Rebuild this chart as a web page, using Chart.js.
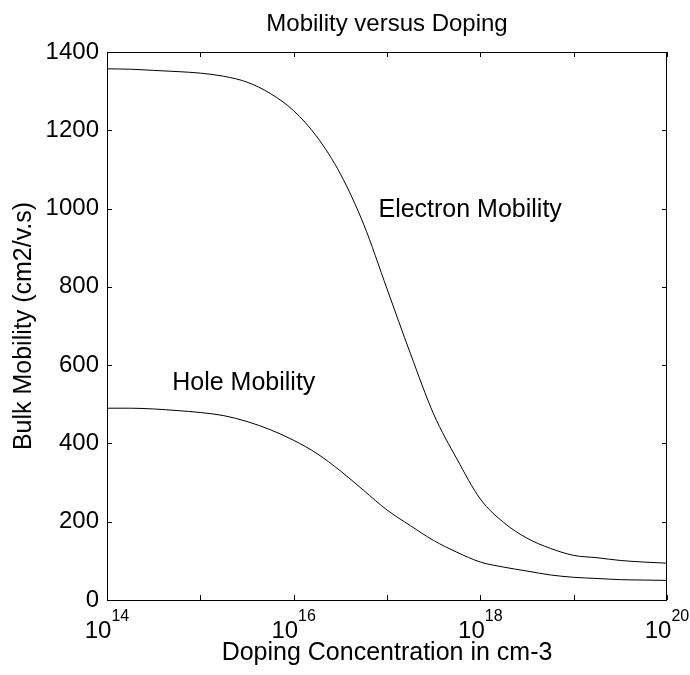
<!DOCTYPE html>
<html>
<head>
<meta charset="utf-8">
<script src="https://cdn.jsdelivr.net/npm/chart.js@4.4.1/dist/chart.umd.min.js"></script>
<style>
  html, body { margin: 0; padding: 0; background: #ffffff; }
  #wrap { width: 690px; height: 675px; }
</style>
</head>
<body>
<div id="wrap"><canvas id="c" width="690" height="675"></canvas></div>
<script>
// ---- data ----
const dopingConcentration = [
  1e14, 1.78e14, 3.16e14, 5.62e14,
  1e15, 1.78e15, 3.16e15, 5.62e15,
  1e16, 1.78e16, 3.16e16, 5.62e16,
  1e17, 1.78e17, 3.16e17, 5.62e17,
  1e18, 1.78e18, 3.16e18, 5.62e18,
  1e19, 1.78e19, 3.16e19, 5.62e19,
  1e20
];
const electronMobility = [
  1357, 1356, 1353, 1350,
  1346, 1338, 1323, 1294,
  1250, 1183, 1089, 960,
  795, 630, 475, 360,
  258, 198, 158, 132,
  114, 108, 101, 97,
  94
];
const holeMobility = [
  490, 490, 488, 484,
  479, 471, 456, 435,
  408, 374, 330, 280,
  230, 190, 152, 122,
  97, 84, 74, 64,
  58, 55, 52, 51,
  50
];
const xTickValues = [1e14, 1e15, 1e16, 1e17, 1e18, 1e19, 1e20];
const xTickLabelExponents = [14, 16, 18, 20];
const yTickStep = 200;
const titleText = "Mobility versus Doping";
const xAxisTitle = "Doping Concentration in cm-3";
const yAxisTitle = "Bulk Mobility (cm2/v.s)";
const annotations = [
  { text: "Electron Mobility", x: 8.1e16, y: 978 },
  { text: "Hole Mobility", x: 5.0e14, y: 536 }
];

const FONT = '"Liberation Sans", Arial, Helvetica, sans-serif';

function toPoints(xs, ys) { return xs.map((x, i) => ({ x: x, y: ys[i] })); }

const matlabPlugin = {
  id: 'matlabAxes',
  afterDraw(chart) {
    const ctx = chart.ctx;
    const a = chart.chartArea;
    const xs = chart.scales.x, ys = chart.scales.y;
    ctx.save();
    // box
    ctx.strokeStyle = '#000';
    ctx.lineWidth = 1;
    ctx.strokeRect(Math.round(a.left) + 0.5, Math.round(a.top) + 0.5,
                   Math.round(a.right - a.left) - 1, Math.round(a.bottom - a.top));
    // x ticks (inward, bottom and top)
    const tl = 5;
    ctx.beginPath();
    xTickValues.forEach(v => {
      const px = Math.round(xs.getPixelForValue(v)) + 0.5;
      ctx.moveTo(px, a.bottom); ctx.lineTo(px, a.bottom - tl);
      ctx.moveTo(px, a.top); ctx.lineTo(px, a.top + tl);
    });
    // y ticks (inward, left and right)
    ys.ticks.forEach(t => {
      const py = Math.round(ys.getPixelForValue(t.value)) + 0.5;
      ctx.moveTo(a.left, py); ctx.lineTo(a.left + tl, py);
      ctx.moveTo(a.right, py); ctx.lineTo(a.right - tl, py);
    });
    ctx.stroke();
    // x tick labels 10^n
    ctx.fillStyle = '#000';
    ctx.textBaseline = 'alphabetic';
    ctx.textAlign = 'left';
    xTickLabelExponents.forEach(e => {
      const px = xs.getPixelForValue(Math.pow(10, e));
      ctx.font = '24px ' + FONT;
      const wBase = ctx.measureText('10').width;
      ctx.font = '16px ' + FONT;
      const wExp = ctx.measureText(String(e)).width;
      const x0 = px - (wBase + wExp) / 2;
      ctx.font = '24px ' + FONT;
      ctx.fillText('10', x0, a.bottom + 38);
      ctx.font = '16px ' + FONT;
      ctx.fillText(String(e), x0 + wBase, a.bottom + 21);
    });
    // title
    ctx.font = '24px ' + FONT;
    ctx.textAlign = 'center';
    ctx.textBaseline = 'alphabetic';
    ctx.fillText(titleText, (a.left + a.right) / 2, 31);
    // annotations
    ctx.font = '25px ' + FONT;
    ctx.textAlign = 'left';
    annotations.forEach(an => {
      ctx.fillText(an.text, xs.getPixelForValue(an.x), ys.getPixelForValue(an.y));
    });
    ctx.restore();
  }
};

new Chart(document.getElementById('c'), {
  type: 'line',
  data: {
    datasets: [
      {
        label: 'Electron Mobility',
        data: toPoints(dopingConcentration, electronMobility),
        borderColor: '#000', borderWidth: 1, pointRadius: 0,
        fill: false, cubicInterpolationMode: 'monotone'
      },
      {
        label: 'Hole Mobility',
        data: toPoints(dopingConcentration, holeMobility),
        borderColor: '#000', borderWidth: 1, pointRadius: 0,
        fill: false, cubicInterpolationMode: 'monotone'
      }
    ]
  },
  options: {
    responsive: false,
    animation: false,
    devicePixelRatio: 1,
    layout: { padding: { top: 52, right: 23, left: 0, bottom: 0 } },
    plugins: { legend: { display: false }, tooltip: { enabled: false }, title: { display: false } },
    scales: {
      x: {
        type: 'logarithmic',
        min: 1e14, max: 1e20,
        grid: { display: false },
        border: { display: false },
        ticks: { display: false },
        afterBuildTicks: (s) => { s.ticks = xTickValues.map(v => ({ value: v })); },
        afterFit: (s) => { s.height = 75; },
        title: {
          display: true, text: xAxisTitle, color: '#000',
          font: { family: FONT, size: 25 }, padding: { top: 0, bottom: 7 }
        }
      },
      y: {
        type: 'linear',
        min: 0, max: 1400,
        grid: { display: false, drawTicks: false },
        border: { display: false },
        ticks: {
          stepSize: yTickStep, color: '#000', padding: 8,
          font: { family: FONT, size: 24 },
          callback: (v) => String(v)
        },
        afterFit: (s) => { s.width = 107; },
        title: {
          display: true, text: yAxisTitle, color: '#000',
          font: { family: FONT, size: 25 }, padding: { top: 9, bottom: 0 }
        }
      }
    }
  },
  plugins: [matlabPlugin]
});
</script>
</body>
</html>
